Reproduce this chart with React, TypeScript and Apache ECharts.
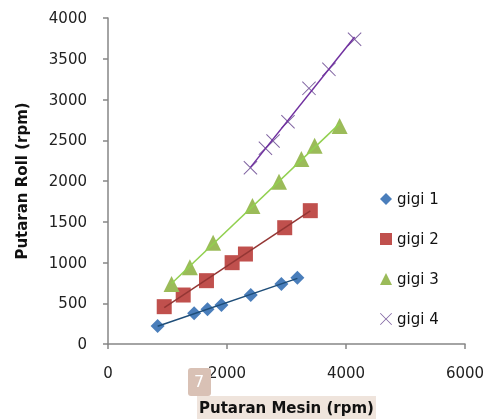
import React, { useEffect, useRef } from "react";
import * as echarts from "echarts";

const seriesNames = ["gigi 1", "gigi 2", "gigi 3", "gigi 4"];

const gigi1X = [834, 1448, 1672, 1907, 2399, 2914, 3183];
const gigi1Y = [221, 377, 426, 479, 601, 736, 814];

const gigi2X = [945, 1264, 1655, 2086, 2310, 2970, 3400];
const gigi2Y = [458, 601, 777, 998, 1104, 1427, 1636];

const gigi3X = [1068, 1376, 1767, 2427, 2874, 3250, 3473, 3893];
const gigi3Y = [736, 941, 1243, 1693, 1991, 2270, 2433, 2675];

const gigi4X = [2394, 2646, 2774, 3025, 3378, 3713, 4144];
const gigi4Y = [2163, 2401, 2491, 2727, 3137, 3370, 3739];

const xTicks = { min: 0, max: 6000, interval: 2000 };
const yTicks = { min: 0, max: 4000, interval: 500 };

const markerColors = ["#4a7ebb", "#c0504d", "#9bbb59", "#8064a2"];
const lineColors = ["#1f4e79", "#943634", "#92d050", "#7030a0"];

const X_PATH =
  "path://M1,0L10,9L19,0L20,1L11,10L20,19L19,20L10,11L1,20L0,19L9,10L0,1Z";
const symbols = ["diamond", "rect", "triangle", X_PATH];
const symbolSizes = [14, 15, 16, 14];

function pairs(xs: number[], ys: number[]) {
  return xs.map((x, i) => [x, ys[i]]);
}

function trend(xs: number[], ys: number[]) {
  const n = xs.length;
  const mx = xs.reduce((a, b) => a + b, 0) / n;
  const my = ys.reduce((a, b) => a + b, 0) / n;
  let sxy = 0;
  let sxx = 0;
  for (let i = 0; i < n; i++) {
    sxy += (xs[i] - mx) * (ys[i] - my);
    sxx += (xs[i] - mx) * (xs[i] - mx);
  }
  const b = sxy / sxx;
  const a = my - b * mx;
  const x0 = Math.min(...xs);
  const x1 = Math.max(...xs);
  return [
    [x0, a + b * x0],
    [x1, a + b * x1],
  ];
}

export default function App() {
  const ref = useRef<HTMLDivElement>(null);

  useEffect(() => {
    if (!ref.current) return;
    const chart = echarts.init(ref.current, null, { renderer: "svg" });
    const all = [
      [gigi1X, gigi1Y],
      [gigi2X, gigi2Y],
      [gigi3X, gigi3Y],
      [gigi4X, gigi4Y],
    ];
    const scatter = all.map(([xs, ys], i) => ({
      name: seriesNames[i],
      type: "scatter",
      data: pairs(xs, ys),
      symbol: symbols[i],
      symbolSize: symbolSizes[i],
      itemStyle: { color: markerColors[i], opacity: 1 },
      z: 2,
    }));
    const lines = all.map(([xs, ys], i) => ({
      name: seriesNames[i] + " trend",
      type: "line",
      data: trend(xs, ys),
      symbol: "none",
      lineStyle: { color: lineColors[i], width: 1.5 },
      z: 3,
      silent: true,
    }));
    const font = "DejaVu Sans";
    const fmt = (v: number) => String(v);
    chart.setOption({
      animation: false,
      grid: {
        left: 108,
        right: 24,
        top: 18,
        bottom: 75,
        containLabel: false,
        outerBoundsMode: "none",
      },
      legend: {
        data: seriesNames.map((n, i) => ({ name: n, icon: symbols[i] })),
        orient: "vertical",
        left: 375,
        top: 186,
        itemWidth: 12,
        itemHeight: 12,
        itemGap: 24,
        textStyle: { fontFamily: font, fontSize: 15, color: "#111", lineHeight: 16 },
      },
      xAxis: {
        type: "value",
        min: xTicks.min,
        max: xTicks.max,
        interval: xTicks.interval,
        name: "Putaran Mesin (rpm)",
        nameLocation: "middle",
        nameGap: 52,
        nameTextStyle: {
          fontFamily: font,
          fontSize: 15,
          fontWeight: "bold",
          color: "#111",
          backgroundColor: "#efe4dc",
          padding: [4, 2, 4, 2],
        },
        axisLine: { show: true, lineStyle: { color: "#868686", width: 1.5 } },
        axisTick: { show: true, length: 5, lineStyle: { color: "#868686", width: 1.5 } },
        axisLabel: { fontFamily: font, fontSize: 15, color: "#222", margin: 21, formatter: fmt },
        splitLine: { show: false },
      },
      yAxis: [
        {
          type: "value",
          min: yTicks.min,
          max: yTicks.max,
          interval: yTicks.interval,
          name: "Putaran Roll (rpm)",
          nameLocation: "middle",
          nameGap: 79,
          nameTextStyle: { fontFamily: font, fontSize: 15, fontWeight: "bold", color: "#111" },
          axisLine: { show: true, lineStyle: { color: "#868686", width: 1.5 } },
          axisTick: { show: true, length: 5, lineStyle: { color: "#868686", width: 1.5 } },
          axisLabel: { show: false },
          splitLine: { show: false },
        },
        {
          type: "value",
          position: "left",
          offset: 9,
          min: yTicks.min,
          max: yTicks.max,
          interval: yTicks.interval,
          axisLine: { show: false },
          axisTick: { show: false },
          axisLabel: { fontFamily: font, fontSize: 15, color: "#222", margin: 12, formatter: fmt },
          splitLine: { show: false },
        },
      ],
      graphic: [
        {
          type: "rect",
          left: 188,
          top: 368,
          shape: { width: 23, height: 28, r: 3 },
          style: { fill: "#d9c1b5" },
          z: 100,
        },
        {
          type: "text",
          left: 194,
          top: 373,
          style: { text: "7", fill: "#ffffff", fontFamily: font, fontSize: 16 },
          z: 101,
        },
      ],
      series: [...scatter, ...lines],
    });
    return () => chart.dispose();
  }, []);

  return (
    <div
      ref={ref}
      style={{ position: "fixed", left: 0, top: 0, width: 489, height: 419 }}
    />
  );
}
